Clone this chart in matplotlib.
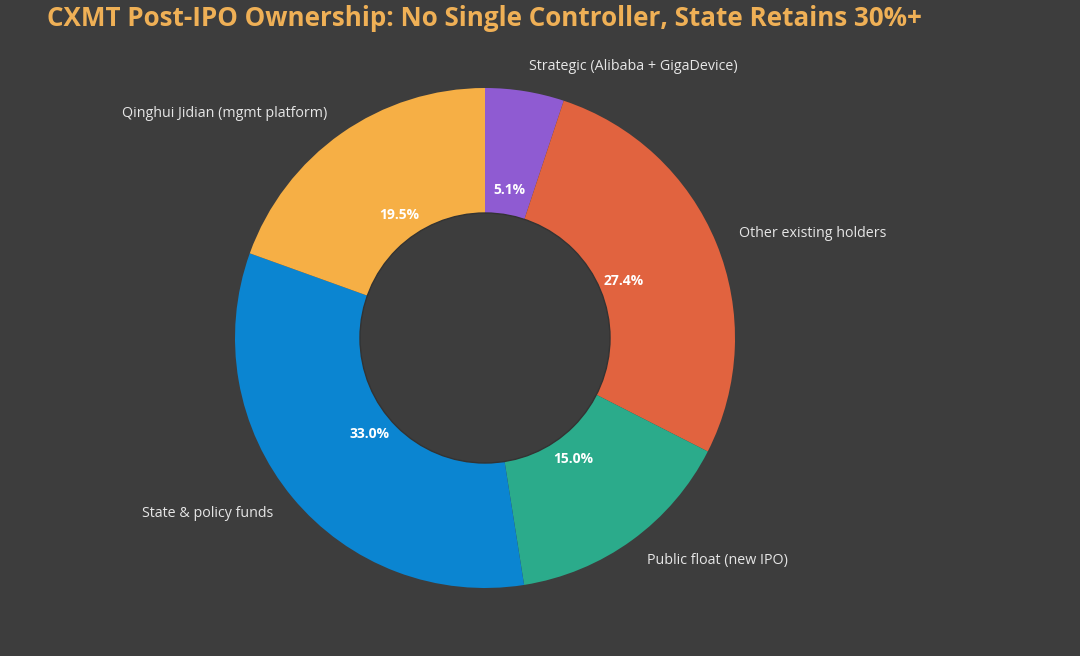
import matplotlib.pyplot as plt

# ownership shares after IPO (clockwise from top)
labels = ['Strategic (Alibaba + GigaDevice)', 'Other existing holders',
          'Public float (new IPO)', 'State & policy funds',
          'Qinghui Jidian (mgmt platform)']
shares = [5.1, 27.4, 15.0, 33.0, 19.5]
colors = ['#8F5BD2', '#E1633F', '#2BAB8B', '#0B85D1', '#F6AF45']

BG = '#3D3D3D'
plt.rcParams['font.family'] = ['Open Sans', 'DejaVu Sans']

fig = plt.figure(figsize=(10.8, 6.56), dpi=100, facecolor=BG)
ax = fig.add_axes([0, 0, 1, 1])
ax.set_facecolor(BG)

wedges, texts, autotexts = ax.pie(
    shares, labels=labels, colors=colors, startangle=90, counterclock=False,
    autopct='%1.1f%%', pctdistance=0.6, labeldistance=1.1,
    textprops={'color': '#E6E6E6', 'fontsize': 10.3})
for t in autotexts:
    t.set_color('white')
    t.set_fontweight('bold')
    t.set_fontsize(10)

hole = plt.Circle((0, 0), 0.5, facecolor=BG, edgecolor='#333333', lw=1, zorder=2)
ax.add_artist(hole)
for t in autotexts:
    t.set_zorder(3)

# 1 data unit = 250 px, centre at (485, 338) px
ax.set_xlim(-485 / 250, (1080 - 485) / 250)
ax.set_ylim(-(656 - 338) / 250, 338 / 250)
ax.set_aspect('auto')
ax.axis('off')

fig.text(47 / 1080, 1 - 19 / 656,
         'CXMT Post-IPO Ownership: No Single Controller, State Retains 30%+',
         color='#EFB056', fontsize=18.7, fontweight='bold', va='center', ha='left')

fig.savefig('out.png', dpi=100, facecolor=BG)
